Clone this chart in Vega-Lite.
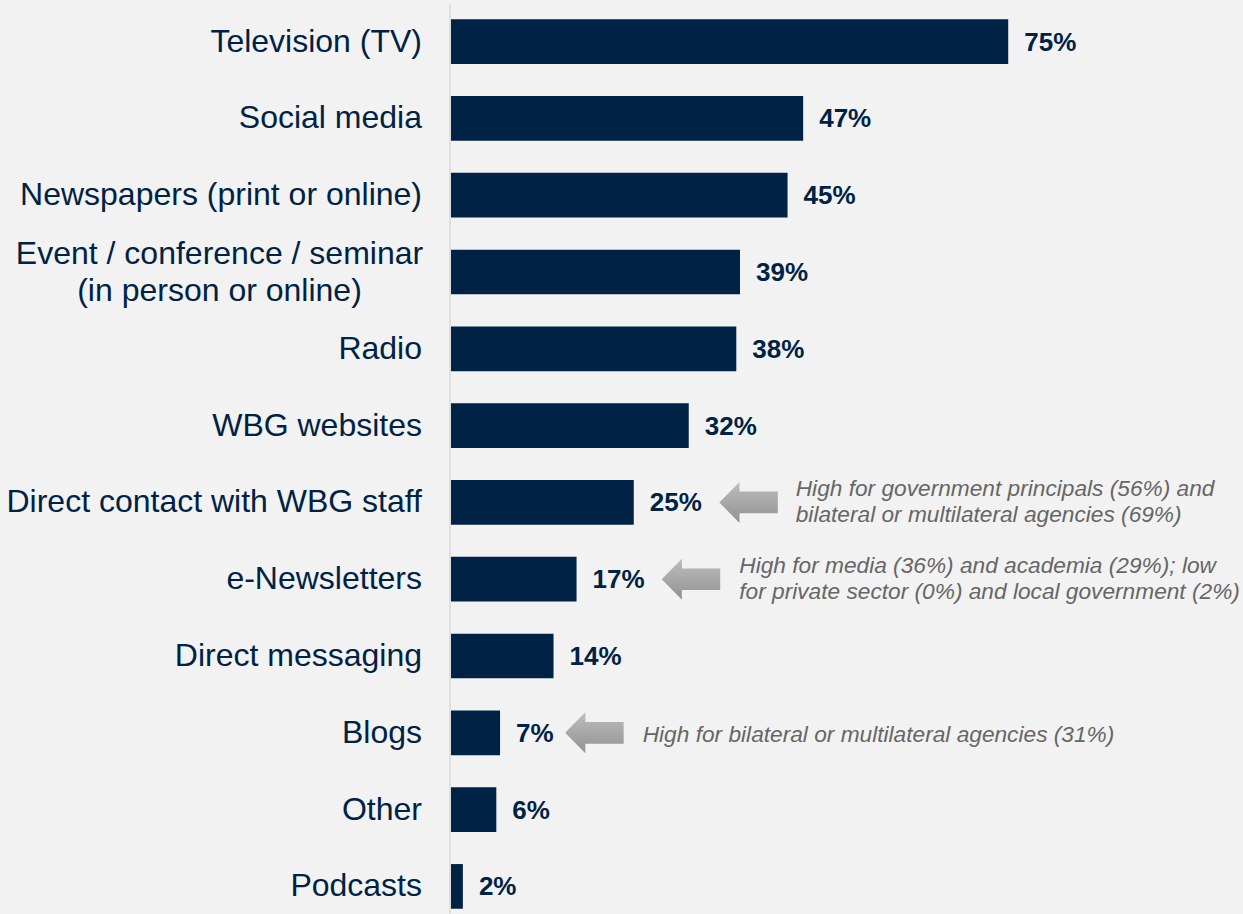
{
  "$schema": "https://vega.github.io/schema/vega-lite/v6.json",
  "width": 792,
  "height": 911,
  "autosize": {"type": "none"},
  "padding": {"left": 451, "top": 3, "right": 0, "bottom": 0},
  "background": "#f2f2f2",
  "config": {"view": {"stroke": null}, "font": "Liberation Sans"},
  "data": {
    "values": [
      {"category": "Television (TV)", "value": 75.0, "label": "75%"},
      {"category": "Social media", "value": 47.4, "label": "47%"},
      {"category": "Newspapers (print or online)", "value": 45.3, "label": "45%"},
      {"category": "Event / conference / seminar (in person or online)", "value": 38.9, "label": "39%"},
      {"category": "Radio", "value": 38.4, "label": "38%"},
      {"category": "WBG websites", "value": 32.0, "label": "32%"},
      {"category": "Direct contact with WBG staff", "value": 24.6, "label": "25%", "arrow_at": 40.05, "note_at": 46.4, "note": "High for government principals (56%) and\nbilateral or multilateral agencies (69%)"},
      {"category": "e-Newsletters", "value": 16.9, "label": "17%", "arrow_at": 32.3, "note_at": 38.8, "note": "High for media (36%) and academia (29%); low\nfor private sector (0%) and local government (2%)"},
      {"category": "Direct messaging", "value": 13.8, "label": "14%"},
      {"category": "Blogs", "value": 6.6, "label": "7%", "arrow_at": 19.3, "note_at": 25.8, "note": "High for bilateral or multilateral agencies (31%)"},
      {"category": "Other", "value": 6.1, "label": "6%"},
      {"category": "Podcasts", "value": 1.6, "label": "2%"}
    ]
  },
  "encoding": {
    "y": {
      "field": "category",
      "type": "nominal",
      "sort": null,
      "scale": {"paddingInner": 0.418, "paddingOuter": 0.14, "align": 0.756},
      "axis": {
        "title": null,
        "ticks": false,
        "grid": false,
        "domain": true,
        "domainColor": "#d9d9d9",
        "domainWidth": 1.5,
        "offset": 1.5,
        "labelFont": "Liberation Sans",
        "labelFontSize": 32,
        "labelColor": "#002244",
        "labelLimit": 0,
        "labelOverlap": false,
        "labelLineHeight": 37,
        "labelPadding": {"condition": {"test": "indexof(datum.value, 'Event') == 0", "value": 230.5}, "value": 28},
        "labelAlign": {"condition": {"test": "indexof(datum.value, 'Event') == 0", "value": "center"}, "value": "right"},
        "labelOffset": {"condition": {"test": "indexof(datum.value, 'Event') == 0", "value": -18.5}, "value": 0},
        "labelExpr": "indexof(datum.value, 'Event') == 0 ? ['Event / conference / seminar', '(in person or online)'] : datum.value"
      }
    }
  },
  "layer": [
    {
      "mark": {"type": "bar", "color": "#002244"},
      "encoding": {
        "x": {"field": "value", "type": "quantitative", "scale": {"domain": [0, 106.6], "nice": false, "zero": true}, "axis": null}
      }
    },
    {
      "mark": {"type": "text", "align": "left", "baseline": "middle", "dx": 16, "dy": 1, "fontSize": 26, "fontWeight": "bold", "color": "#002244", "font": "Liberation Sans"},
      "encoding": {
        "x": {"field": "value", "type": "quantitative"},
        "text": {"field": "label"}
      }
    },
    {
      "transform": [{"filter": "isValid(datum.note)"}],
      "mark": {
        "type": "point",
        "shape": "M -1 0 L -0.31 -0.7 L -0.31 -0.37 L 1 -0.37 L 1 0.37 L -0.31 0.37 L -0.31 0.7 Z",
        "size": 3422,
        "filled": true,
        "opacity": 1,
        "strokeWidth": 0,
        "fill": {"gradient": "linear", "x1": 0, "y1": 0, "x2": 0, "y2": 1, "stops": [{"offset": 0, "color": "#bdbdbd"}, {"offset": 1, "color": "#929292"}]}
      },
      "encoding": {
        "x": {"field": "arrow_at", "type": "quantitative"}
      }
    },
    {
      "transform": [{"filter": "isValid(datum.note) && indexof(datum.note, '\\n') >= 0"}],
      "mark": {"type": "text", "align": "left", "baseline": "middle", "dy": -13, "fontSize": 22.7, "fontStyle": "italic", "color": "#666666", "lineBreak": "\n", "lineHeight": 26, "font": "Liberation Sans"},
      "encoding": {
        "x": {"field": "note_at", "type": "quantitative"},
        "text": {"field": "note"}
      }
    },
    {
      "transform": [{"filter": "isValid(datum.note) && indexof(datum.note, '\\n') < 0"}],
      "mark": {"type": "text", "align": "left", "baseline": "middle", "dy": 2, "fontSize": 22.7, "fontStyle": "italic", "color": "#666666", "font": "Liberation Sans"},
      "encoding": {
        "x": {"field": "note_at", "type": "quantitative"},
        "text": {"field": "note"}
      }
    }
  ]
}
